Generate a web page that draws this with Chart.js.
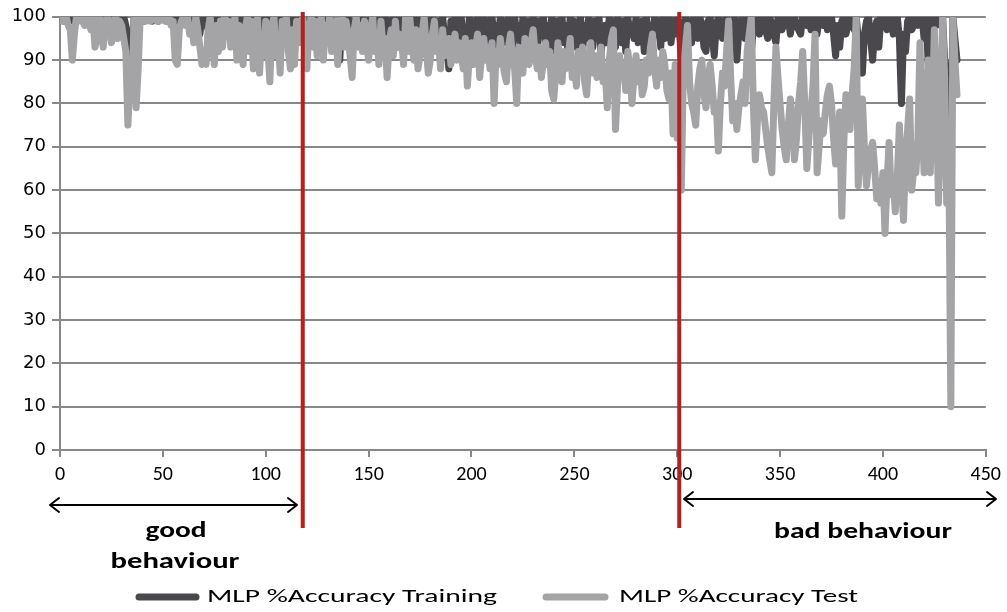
<!DOCTYPE html>
<html>
<head>
<meta charset="utf-8">
<script src="https://cdn.jsdelivr.net/npm/chart.js@4/dist/chart.umd.min.js"></script>
<style>
  html, body { margin: 0; padding: 0; background: #fff; }
  #wrap { width: 1007px; height: 612px; }
</style>
</head>
<body>
<div id="wrap"><canvas id="accChart" width="1007" height="612"></canvas></div>
<script>
// MLP accuracy per run (index = run number)
const trainAcc = [
  100,100,99,100,100,99,100,100,99,100,
  100,99,100,100,98,100,99,100,100,99,
  100,100,99,100,100,98,100,99,100,100,
  99,100,98,96,90,85,100,97,100,100,
  100,99,100,100,100,99,100,100,99,100,
  100,100,99,100,100,99,100,99,100,100,
  99,100,100,98,100,97,100,99,96,100,
  98,100,97,100,99,96,100,98,100,97,
  100,98,100,96,99,100,97,100,98,99,
  100,97,99,100,96,100,98,99,100,97,
  99,100,98,97,100,99,96,100,98,100,
  97,100,99,96,100,98,100,97,99,100,
  96,100,98,95,100,97,99,94,100,98,
  97,100,95,99,98,93,90,100,97,99,
  100,96,99,94,100,98,95,100,97,99,
  94,100,97,99,95,100,93,98,100,96,
  99,95,100,97,93,100,98,96,100,94,
  98,100,95,97,100,93,99,96,100,97,
  95,100,98,94,99,97,100,95,93,88,
  99,96,100,94,98,100,95,97,92,100,
  96,99,93,100,97,95,100,98,94,99,
  100,95,98,93,100,96,99,94,100,97,
  93,100,96,98,92,100,97,95,99,94,
  100,96,92,99,97,100,94,98,93,100,
  97,92,99,95,100,94,98,91,100,96,
  99,93,97,100,92,98,95,100,96,93,
  99,95,100,91,97,98,94,100,96,99,
  93,100,97,94,99,92,100,96,98,95,
  100,94,97,99,92,100,95,98,94,100,
  96,99,93,100,95,97,100,94,99,96,
  100,98,90,97,100,96,99,94,100,97,
  95,100,98,93,92,99,100,96,91,98,
  100,97,95,99,100,96,98,94,100,90,
  97,99,100,95,98,100,92,97,99,100,
  96,99,100,97,95,100,98,96,94,100,
  99,97,100,98,100,96,99,100,98,97,
  96,100,99,98,100,97,100,99,96,100,
  99,98,100,97,99,100,96,91,98,93,
  99,100,96,98,100,99,97,100,95,93,
  87,96,99,100,95,90,97,99,93,100,
  98,100,97,99,100,96,98,100,95,80,
  96,92,99,100,97,98,100,98,99,100,
  95,100,89,97,100,100,98,100,99,100,
  90,88,85,65,100,95,90
];

const testAcc = [
  100,99,99,100,98,97,90,96,100,99,
  100,99,98,100,99,97,100,93,95,100,
  99,93,98,100,99,94,97,100,95,99,
  98,95,92,75,85,82,100,79,88,100,
  99,100,99,100,99,100,100,99,99,100,
  100,99,99,100,98,99,90,89,97,99,
  100,98,100,96,98,94,100,97,93,89,
  91,89,97,100,94,89,98,92,99,93,
  100,96,99,93,95,100,90,98,94,89,
  97,100,92,99,88,95,100,87,96,91,
  99,93,85,98,100,91,96,87,99,94,
  100,92,88,97,89,99,94,98,100,95,
  88,97,100,93,99,91,96,100,90,98,
  95,100,92,97,99,89,97,100,93,99,
  96,91,86,97,100,93,98,92,99,94,
  90,97,100,92,96,89,99,93,95,86,
  94,97,91,99,93,96,95,89,100,92,
  100,94,90,97,88,91,96,100,93,87,
  90,96,99,92,94,88,97,91,93,95,
  89,93,96,90,94,92,88,95,84,91,
  94,89,93,96,86,91,95,90,93,88,
  94,80,92,89,95,91,87,85,93,96,
  90,88,80,93,91,87,95,92,89,94,
  97,91,88,93,86,90,94,89,92,83,
  81,87,94,90,85,92,88,91,95,86,
  89,84,92,88,93,85,82,90,94,87,
  91,86,89,93,85,88,79,90,95,97,
  74,84,91,87,89,83,92,88,80,86,
  91,85,89,82,84,90,87,93,96,88,
  84,90,86,92,89,83,81,87,73,89,
  72,84,60,88,93,98,85,80,78,75,
  84,88,90,82,79,85,89,84,78,80,
  69,80,87,84,92,99,86,76,80,74,
  79,82,85,80,92,96,100,80,67,76,
  82,79,78,74,70,67,64,80,93,86,
  80,74,70,67,75,81,76,67,72,80,
  85,92,80,65,72,78,84,96,64,70,
  76,73,78,82,84,80,72,66,72,78,
  54,71,82,78,74,82,88,100,61,72,
  81,70,61,66,69,71,65,58,62,57,
  64,50,62,71,59,62,55,63,75,62,
  53,68,74,81,60,65,64,72,94,78,
  64,76,90,64,78,97,80,57,75,100,
  86,57,70,10,100,90,82
];

const markerRuns = [118, 301];
const yTickStep = 10;
const xTickStep = 50;

const seriesNames = ['MLP %Accuracy Training', 'MLP %Accuracy Test'];
const seriesColors = ['#4a484c', '#a4a4a6'];

const narrowFont = "Carlito, 'Liberation Sans Narrow', 'DejaVu Sans Condensed', 'Liberation Sans', sans-serif";

function toPoints(arr) {
  return arr.map((v, i) => ({ x: i, y: v }));
}

// draws text squeezed/stretched to a given width
function fitText(ctx, text, x, y, width, font, align) {
  ctx.save();
  ctx.font = font;
  ctx.textBaseline = 'middle';
  ctx.textAlign = 'left';
  const w = ctx.measureText(text).width;
  const k = width / w;
  let left = x;
  if (align === 'center') left = x - width / 2;
  ctx.translate(left, y);
  ctx.scale(k, 1);
  ctx.fillText(text, 0, 0);
  ctx.restore();
}

function arrow(ctx, x1, x2, y) {
  ctx.save();
  ctx.strokeStyle = '#000';
  ctx.lineWidth = 2;
  ctx.lineCap = 'round';
  ctx.lineJoin = 'round';
  ctx.beginPath();
  ctx.moveTo(x1, y);
  ctx.lineTo(x2, y);
  ctx.moveTo(x1 + 9, y - 7);
  ctx.lineTo(x1, y);
  ctx.lineTo(x1 + 9, y + 7);
  ctx.moveTo(x2 - 9, y - 7);
  ctx.lineTo(x2, y);
  ctx.lineTo(x2 - 9, y + 7);
  ctx.stroke();
  ctx.restore();
}

const extras = {
  id: 'extras',
  afterDatasetsDraw(chart) {
    const ctx = chart.ctx;
    const xs = chart.scales.x;
    // red phase separators
    ctx.save();
    ctx.strokeStyle = '#b3201f';
    ctx.lineWidth = 4;
    markerRuns.forEach(r => {
      const px = xs.getPixelForValue(r);
      ctx.beginPath();
      ctx.moveTo(px, 12);
      ctx.lineTo(px, 528);
      ctx.stroke();
    });
    ctx.restore();
  },
  afterDraw(chart) {
    const ctx = chart.ctx;
    arrow(ctx, 50, 297, 505);
    arrow(ctx, 684, 996, 499);

    ctx.fillStyle = '#000';
    const bold = "bold 23px " + narrowFont;
    fitText(ctx, 'good', 176, 531, 61, bold, 'center');
    fitText(ctx, 'behaviour', 175, 562, 129, bold, 'center');
    fitText(ctx, 'bad behaviour', 863, 532, 178, bold, 'center');

    // legend
    const legY = 597;
    const sw = [[139, 196], [546, 605]];
    const tx = [[207, 290], [619, 239]];
    ctx.save();
    ctx.lineCap = 'round';
    ctx.lineWidth = 7;
    for (let i = 0; i < 2; i++) {
      ctx.strokeStyle = seriesColors[i];
      ctx.beginPath();
      ctx.moveTo(sw[i][0], legY);
      ctx.lineTo(sw[i][1], legY);
      ctx.stroke();
      ctx.fillStyle = '#000';
      fitText(ctx, seriesNames[i], tx[i][0], legY, tx[i][1], "19px " + narrowFont, 'left');
    }
    ctx.restore();
  }
};

const ctx = document.getElementById('accChart').getContext('2d');

const chart = new Chart(ctx, {
  type: 'line',
  data: {
    datasets: [
      {
        label: seriesNames[0],
        data: toPoints(trainAcc),
        borderColor: seriesColors[0],
        backgroundColor: seriesColors[0],
        borderWidth: 7,
        order: 2
      },
      {
        label: seriesNames[1],
        data: toPoints(testAcc),
        borderColor: seriesColors[1],
        backgroundColor: seriesColors[1],
        borderWidth: 7,
        order: 1
      }
    ]
  },
  options: {
    responsive: false,
    animation: false,
    clip: 0,
    layout: { padding: { top: 15, right: 20, left: 0, bottom: 0 } },
    elements: {
      point: { radius: 0 },
      line: { tension: 0, borderJoinStyle: 'round', borderCapStyle: 'round' }
    },
    plugins: {
      legend: { display: false },
      tooltip: { enabled: false }
    },
    scales: {
      x: {
        type: 'linear',
        min: 0,
        max: 450,
        afterFit(s) { s.height = 162; },
        ticks: {
          stepSize: xTickStep,
          color: '#000',
          padding: 6,
          maxRotation: 0,
          font: { family: narrowFont, size: 20 }
        },
        grid: { drawOnChartArea: false, color: '#888', lineWidth: 2, tickLength: 7 },
        border: { color: '#888', width: 2 }
      },
      y: {
        min: 0,
        max: 100,
        afterFit(s) { s.width = 60; },
        ticks: {
          stepSize: yTickStep,
          color: '#000',
          padding: 6,
          font: { family: "'DejaVu Sans', Verdana, sans-serif", size: 18 }
        },
        grid: { color: '#888', lineWidth: 2, tickLength: 8 },
        border: { color: '#888', width: 2 }
      }
    }
  },
  plugins: [extras]
});
</script>
</body>
</html>
